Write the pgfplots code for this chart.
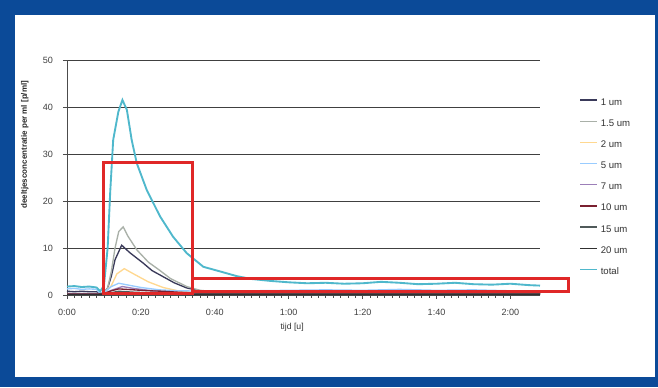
\documentclass[border=0pt]{standalone}
\usepackage{pgfplots}
\pgfplotsset{compat=1.18}
\usepackage{fontspec}
\setmainfont{Liberation Sans}
\definecolor{frameblue}{HTML}{0B4A98}
\definecolor{cA}{HTML}{3A3A5A}
\definecolor{cB}{HTML}{A9B0A8}
\definecolor{cC}{HTML}{FFD890}
\definecolor{cD}{HTML}{99CCFF}
\definecolor{cE}{HTML}{9C7FB8}
\definecolor{cF}{HTML}{7A2030}
\definecolor{cG}{HTML}{505A5A}
\definecolor{cH}{HTML}{303030}
\definecolor{cT}{HTML}{4FB8CC}
\definecolor{boxred}{HTML}{E02828}
\begin{document}
\begin{tikzpicture}
\useasboundingbox (0,0) rectangle (493.5pt,290.25pt);
\fill[frameblue] (0,0) rectangle (493.5pt,290.25pt);
\fill[white] (11.25pt,7.5pt) rectangle (491.25pt,279pt);
\begin{axis}[
  at={(50.25pt,69pt)}, anchor=south west,
  scale only axis, width=354.75pt, height=176.25pt,
  xmin=0, xmax=128, ymin=0, ymax=50,
  axis lines*=left,
  axis line style={draw=black!70, line width=0.6pt},
  xtick={0,20,40,60,80,100,120},
  xticklabels={0:00,0:20,0:40,1:00,1:20,1:40,2:00},
  minor x tick num=9,
  ytick={0,10,20,30,40,50},
  tick align=outside,
  major tick length=3pt, minor tick length=2pt,
  tick style={black!70, line width=0.5pt},
  ymajorgrids, grid style={black!75, line width=0.7pt},
  ticklabel style={font=\fontsize{6.8}{7}\selectfont, text=black!75},
  xticklabel style={yshift=-4pt},
  yticklabel style={xshift=-4pt},
  /pgf/number format/assume math mode=true,
  xlabel={tijd [u]},
  xlabel style={at={(axis description cs:0.476,-0.136)}, anchor=center, font=\fontsize{6.5}{7}\selectfont, text=black!80},
  ylabel={\bfseries deeltjesconcentratie per ml [p/ml]},
  ylabel style={at={(axis description cs:-0.089,0.64)}, anchor=center, rotate=0, font=\fontsize{6}{6.5}\selectfont, text=black!85},
  clip=false,
  legend style={at={(axis description cs:1.075,0.86)}, anchor=north west, draw=none, fill=none,
    font=\fontsize{7.2}{8}\selectfont, row sep=5.4pt, text=black!80},
  legend cell align=left,
  legend image code/.code={\draw[#1, line width=1pt] (0cm,2pt) -- (0.45cm,2pt);},
  every axis plot/.append style={line width=1pt},
]
\addplot[cA] coordinates {(0,0.8)(2,0.7)(4,0.8)(6,0.7)(8,0.7)(9,0.3)(10,0.5)(11,1.5)(12,4)(13,7.5)(14.8,10.6)(17,9)(20.6,6.8)(23,5.2)(26,3.9)(29,2.6)(32.4,1.5)(36,0.9)(40,0.7)(50,0.6)(60,0.5)(70,0.6)(80,0.5)(90,0.6)(100,0.5)(110,0.5)(120,0.4)(128,0.4)};
\addlegendentry{1 um}
\addplot[cB] coordinates {(0,0.3)(8,0.3)(10,0.5)(11,1.5)(12,5)(13,10)(14,13.5)(15.2,14.5)(16.5,12.5)(18.9,9.6)(22,7)(25,5.3)(28,3.5)(32.4,1.8)(36,1.0)(40,0.7)(50,0.6)(60,0.5)(70,0.6)(80,0.5)(90,0.5)(100,0.6)(110,0.5)(120,0.5)(128,0.4)};
\addlegendentry{1.5 um}
\addplot[cC] coordinates {(0,0.2)(8,0.2)(10,0.3)(12,2)(13.5,4.5)(15.5,5.6)(18,4.5)(22,2.8)(26,1.6)(30,0.9)(35,0.5)(40,0.4)(60,0.3)(80,0.4)(100,0.3)(128,0.3)};
\addlegendentry{2 um}
\addplot[cD] coordinates {(0,1.3)(2,1.4)(4,1.2)(6,1.3)(8,1.2)(9,0.3)(10,0.5)(12,1.8)(14,2.5)(16,2.2)(20,1.6)(25,1.1)(30,0.9)(40,0.8)(50,0.9)(60,1.0)(70,1.1)(80,1.0)(90,1.2)(100,1.0)(110,1.1)(120,0.9)(128,0.9)};
\addlegendentry{5 um}
\addplot[cE] coordinates {(0,0.3)(8,0.3)(10,0.3)(12,1.0)(15,1.8)(18,1.4)(22,1.0)(28,0.6)(35,0.4)(50,0.3)(80,0.3)(128,0.3)};
\addlegendentry{7 um}
\addplot[cF] coordinates {(0,0.2)(8,0.2)(10,0.3)(12,0.9)(14,1.3)(18,1.1)(22,0.9)(26,0.8)(30,0.6)(35,0.4)(50,0.3)(80,0.4)(100,0.3)(128,0.3)};
\addlegendentry{10 um}
\addplot[cG] coordinates {(0,0.1)(8,0.1)(10,0.2)(12,0.5)(14,0.8)(18,0.6)(25,0.4)(35,0.2)(60,0.2)(128,0.2)};
\addlegendentry{15 um}
\addplot[cH] coordinates {(0,0.1)(8,0.1)(10,0.1)(12,0.3)(14,0.5)(18,0.4)(25,0.2)(35,0.1)(128,0.1)};
\addlegendentry{20 um}
\addplot[cT, line width=1.4pt] coordinates {(0,1.8)(2,1.9)(4,1.7)(6,1.8)(8,1.6)(9,0.8)(10,2)(11,10)(11.7,22)(12.5,33)(13.9,39)(15,41.5)(16.2,39.4)(17.5,33)(18.9,28)(21.6,22.3)(25.2,16.7)(28.7,12.4)(32.4,8.9)(36.9,6)(41.5,5)(46,4.0)(50,3.4)(55,3.0)(60,2.7)(65,2.5)(70,2.6)(75,2.4)(80,2.5)(85,2.8)(90,2.6)(95,2.3)(100,2.4)(105,2.6)(110,2.3)(115,2.2)(120,2.4)(125,2.1)(128,2.0)};
\addlegendentry{total}
\draw[boxred, line width=2.2pt] (axis cs:9.8,0.4) rectangle (axis cs:33.9,28.1);
\draw[boxred, line width=2.2pt] (axis cs:33.9,0.8) rectangle (axis cs:135.8,3.6);
\end{axis}
\end{tikzpicture}
\end{document}
